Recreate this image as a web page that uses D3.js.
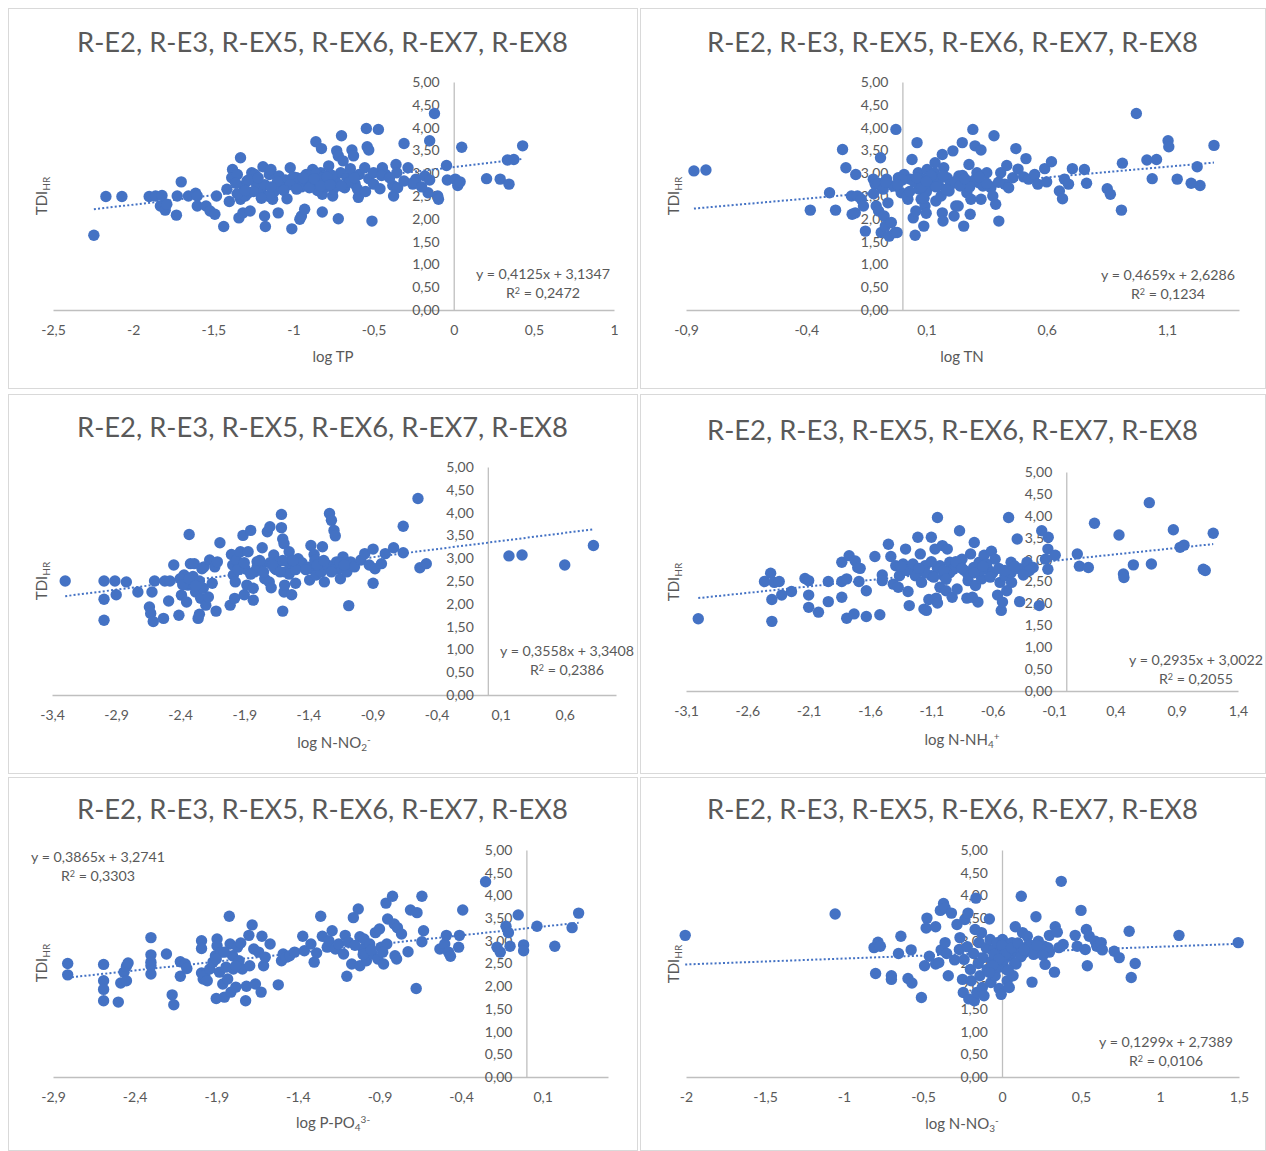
<!DOCTYPE html>
<html><head><meta charset="utf-8">
<script src="https://cdn.jsdelivr.net/npm/d3@7"></script>
<style>
body{margin:0;background:#fff}
text{font-family:Lato,"Open Sans",sans-serif;fill:#595959}
</style>
</head><body>
<svg id="chart" width="1266" height="1151"></svg>
<script>
const chartTitle = "R-E2, R-E3, R-EX5, R-EX6, R-EX7, R-EX8";
const yTicks = [0,0.5,1,1.5,2,2.5,3,3.5,4,4.5,5];
const xTicksTP = [-2.5,-2,-1.5,-1,-0.5,0,0.5,1];
const xTicksTN = [-0.9,-0.4,0.1,0.6,1.1];
const xTicksNO2 = [-3.4,-2.9,-2.4,-1.9,-1.4,-0.9,-0.4,0.1,0.6];
const xTicksNH4 = [-3.1,-2.6,-2.1,-1.6,-1.1,-0.6,-0.1,0.4,0.9,1.4];
const xTicksPO4 = [-2.9,-2.4,-1.9,-1.4,-0.9,-0.4,0.1];
const xTicksNO3 = [-2,-1.5,-1,-0.5,0,0.5,1,1.5];
const slopes = [0.4125,0.4659,0.3558,0.2935,0.3865,0.1299];
const intercepts = [3.1347,2.6286,3.3408,3.0022,3.2741,2.7389];
const rSquared = [0.2472,0.1234,0.2386,0.2055,0.3303,0.0106];

// [log value, TDI_HR]
const logTP = [[-2.245,1.64],[-2.17,2.49],[-2.07,2.49],[-1.9,2.49],[-1.86,2.5],[-1.82,2.51],[-1.83,2.28],[-1.8,2.19],[-1.79,2.32],[-1.73,2.08],[-1.725,2.5],[-1.7,2.81],[-1.655,2.5],[-1.61,2.56],[-1.6,2.5],[-1.6,2.28],[-1.545,2.28],[-1.52,2.17],[-1.49,2.1],[-1.48,2.5],[-1.435,1.83],[-1.415,2.65],[-1.4,2.38],[-1.38,3.08],[-1.385,2.9],[-1.35,2.97],[-1.34,2.02],[-1.33,3.34],[-1.33,2.43],[-1.315,2.13],[-1.31,2.72],[-1.29,2.83],[-1.28,2.57],[-1.27,2.17],[-1.26,3.01],[-1.24,2.97],[-1.23,2.76],[-1.2,2.57],[-1.19,3.14],[-1.18,2.06],[-1.175,1.83],[-1.16,2.5],[-1.15,2.97],[-1.14,3.08],[-1.13,2.43],[-1.11,2.72],[-1.095,2.13],[-1.09,2.94],[-1.06,2.79],[-1.04,2.44],[-1.02,3.12],[-1.01,1.78],[-1.0,2.79],[-0.98,2.9],[-0.96,1.99],[-0.95,2.06],[-0.93,2.21],[-0.93,2.83],[-0.92,2.97],[-0.9,2.76],[-0.88,3.08],[-0.86,3.69],[-0.86,2.87],[-0.845,2.68],[-0.83,3.01],[-0.825,3.54],[-0.82,2.54],[-0.82,2.15],[-0.81,2.94],[-0.79,2.79],[-0.78,3.16],[-0.77,2.97],[-0.755,2.5],[-0.74,2.83],[-0.73,3.49],[-0.72,2.0],[-0.72,3.38],[-0.705,3.01],[-0.7,3.82],[-0.69,3.27],[-0.68,2.68],[-0.665,2.9],[-0.645,3.1],[-0.635,3.51],[-0.625,3.38],[-0.615,2.76],[-0.595,2.47],[-0.59,2.97],[-0.555,3.12],[-0.545,3.98],[-0.54,3.58],[-0.53,3.51],[-0.53,2.88],[-0.51,1.95],[-0.5,2.76],[-0.5,3.01],[-0.47,3.96],[-0.46,2.66],[-0.445,3.12],[-0.425,2.97],[-0.38,2.73],[-0.375,2.5],[-0.36,3.19],[-0.355,3.01],[-0.35,2.68],[-0.31,3.65],[-0.31,2.83],[-0.285,3.12],[-0.255,2.76],[-0.235,2.87],[-0.18,2.94],[-0.16,2.57],[-0.15,3.71],[-0.12,4.31],[-0.1,2.5],[-0.095,2.43],[-0.045,3.17],[-0.04,2.85],[0.01,2.87],[0.025,2.73],[0.04,2.81],[0.05,3.57],[0.205,2.88],[0.29,2.87],[0.345,2.76],[0.335,3.29],[0.375,3.3],[0.43,3.6],[-1.05,2.85],[-1.0,2.92],[-0.97,2.78],[-0.95,2.7],[-0.92,2.85],[-0.9,2.95],[-0.88,2.72],[-0.86,2.98],[-0.84,2.8],[-0.82,2.9],[-0.8,2.7],[-0.78,2.82],[-0.76,2.95],[-0.75,2.65],[-0.85,2.62],[-1.12,2.6],[-1.08,2.7],[-1.18,2.75],[-1.25,2.6],[-1.3,2.5],[-1.28,2.85],[-1.35,2.55],[-1.15,2.5],[-1.2,2.45],[-0.65,2.8],[-0.6,2.65],[-0.55,2.6],[-0.45,2.95],[-0.4,2.9],[-0.25,2.8],[-0.15,2.85],[-0.2,2.7],[-1.02,2.75],[-0.98,2.65],[-0.94,2.9],[-0.9,2.68],[-0.87,2.88],[-0.83,2.72],[-0.79,2.92],[-0.77,2.75],[-1.1,2.82],[-1.14,2.7],[-1.22,2.9],[-1.3,2.62],[-1.36,2.78],[-0.7,2.72],[-0.62,2.9],[-1.06,2.62]];

const logTN = [[-0.867,3.05],[-0.817,3.07],[-0.383,2.19],[-0.303,2.57],[-0.278,2.19],[-0.249,3.52],[-0.235,3.12],[-0.212,2.5],[-0.209,2.1],[-0.196,2.13],[-0.194,2.97],[-0.187,2.5],[-0.171,2.43],[-0.162,2.28],[-0.154,1.73],[-0.121,2.87],[-0.113,2.76],[-0.109,2.28],[-0.099,2.17],[-0.091,3.34],[-0.088,1.7],[-0.083,2.68],[-0.076,2.06],[-0.071,1.84],[-0.066,2.87],[-0.06,2.35],[-0.055,1.62],[-0.046,1.92],[-0.038,2.72],[-0.03,1.7],[-0.027,3.96],[-0.022,1.7],[-0.017,2.9],[-0.005,2.57],[0.007,2.97],[0.023,2.43],[0.033,2.87],[0.04,3.3],[0.045,2.02],[0.053,1.64],[0.056,2.17],[0.061,3.67],[0.066,3.01],[0.07,2.65],[0.078,2.43],[0.086,2.87],[0.089,1.84],[0.094,2.28],[0.099,2.12],[0.103,3.08],[0.111,2.72],[0.119,2.9],[0.133,3.01],[0.136,3.23],[0.139,2.39],[0.149,2.76],[0.161,2.5],[0.166,3.41],[0.166,2.13],[0.169,1.95],[0.172,3.12],[0.186,2.9],[0.194,2.61],[0.21,3.49],[0.215,2.06],[0.222,2.28],[0.232,2.28],[0.235,2.94],[0.249,3.67],[0.255,1.84],[0.26,2.79],[0.268,2.57],[0.277,3.19],[0.282,2.1],[0.285,2.43],[0.293,3.96],[0.302,3.6],[0.31,3.01],[0.318,2.79],[0.327,3.51],[0.327,2.43],[0.335,2.72],[0.351,3.01],[0.368,2.68],[0.376,2.5],[0.381,3.82],[0.388,2.32],[0.401,1.95],[0.409,3.01],[0.426,2.76],[0.434,3.17],[0.442,2.68],[0.459,2.9],[0.472,3.54],[0.481,3.09],[0.504,2.92],[0.514,3.32],[0.525,2.87],[0.55,2.97],[0.563,2.76],[0.592,3.1],[0.6,2.81],[0.62,3.25],[0.653,2.61],[0.666,2.44],[0.674,2.87],[0.691,2.76],[0.707,3.1],[0.757,3.08],[0.766,2.78],[0.852,2.66],[0.865,2.54],[0.911,2.19],[0.915,3.22],[0.973,4.31],[1.017,3.29],[1.039,2.88],[1.057,3.3],[1.105,3.71],[1.108,3.58],[1.143,2.87],[1.201,2.78],[1.226,3.14],[1.238,2.73],[1.296,3.61],[0.05,2.8],[0.1,2.6],[0.15,2.85],[0.2,2.75],[0.25,2.95],[0.3,2.85],[0.35,2.78],[0.12,2.95],[0.08,2.7],[0.18,2.65],[0.22,2.82],[0.28,2.7],[0.4,2.8],[-0.1,2.78],[-0.08,2.65],[-0.12,2.55],[0.0,2.85],[0.02,2.5],[0.06,2.9],[0.1,2.82],[0.14,2.7],[0.17,2.95],[0.24,2.72],[0.26,2.88],[0.32,2.92],[0.03,2.6],[0.09,2.45],[-0.02,2.75],[-0.07,2.8]];

const logNO2 = [[-3.297,2.5],[-2.994,2.5],[-2.994,2.1],[-2.994,1.64],[-2.909,2.5],[-2.899,2.2],[-2.82,2.48],[-2.73,2.26],[-2.64,1.93],[-2.63,1.79],[-2.62,2.26],[-2.61,1.61],[-2.6,2.5],[-2.53,1.68],[-2.52,2.5],[-2.49,2.06],[-2.48,2.5],[-2.45,2.85],[-2.41,1.75],[-2.39,2.19],[-2.37,2.63],[-2.35,2.04],[-2.34,2.41],[-2.33,3.52],[-2.32,2.88],[-2.31,2.48],[-2.29,2.88],[-2.28,2.26],[-2.26,1.68],[-2.25,1.77],[-2.24,2.12],[-2.23,2.77],[-2.22,2.34],[-2.215,2.81],[-2.2,1.97],[-2.18,2.15],[-2.17,2.96],[-2.15,2.45],[-2.13,2.81],[-2.12,1.84],[-2.11,2.92],[-2.09,3.34],[-2.01,1.97],[-2.0,3.08],[-1.99,2.85],[-1.985,2.63],[-1.975,2.12],[-1.97,2.48],[-1.96,2.96],[-1.93,3.14],[-1.91,3.5],[-1.9,2.2],[-1.895,2.77],[-1.88,2.41],[-1.87,3.14],[-1.85,3.61],[-1.83,2.08],[-1.83,2.34],[-1.82,2.7],[-1.8,2.92],[-1.77,2.81],[-1.76,3.23],[-1.74,2.55],[-1.72,3.58],[-1.705,2.48],[-1.7,3.69],[-1.69,2.35],[-1.67,3.07],[-1.66,2.77],[-1.64,2.92],[-1.61,3.96],[-1.61,3.67],[-1.6,3.42],[-1.6,1.84],[-1.59,2.26],[-1.59,3.32],[-1.585,2.41],[-1.58,2.7],[-1.56,2.92],[-1.55,3.14],[-1.53,2.2],[-1.515,2.81],[-1.5,2.45],[-1.48,2.99],[-1.45,2.85],[-1.39,2.52],[-1.38,3.28],[-1.37,2.77],[-1.355,3.08],[-1.34,2.63],[-1.32,2.92],[-1.29,3.25],[-1.275,2.48],[-1.26,2.81],[-1.235,3.98],[-1.22,3.83],[-1.2,3.61],[-1.19,3.49],[-1.18,2.92],[-1.165,2.77],[-1.15,2.55],[-1.13,3.03],[-1.1,2.7],[-1.085,1.96],[-1.07,2.92],[-1.04,2.81],[-0.99,2.96],[-0.96,3.1],[-0.925,2.85],[-0.895,2.45],[-0.895,3.2],[-0.88,2.77],[-0.83,2.88],[-0.8,3.1],[-0.735,3.23],[-0.66,3.12],[-0.66,3.7],[-0.545,4.31],[-0.53,2.79],[-0.48,2.88],[0.165,3.05],[0.267,3.07],[0.6,2.85],[0.824,3.28],[-1.8,2.8],[-1.7,2.9],[-1.65,2.75],[-1.55,2.65],[-1.45,2.9],[-1.4,2.8],[-1.35,2.95],[-1.3,2.7],[-1.25,2.85],[-1.2,2.75],[-1.15,2.9],[-1.5,2.75],[-1.6,2.95],[-1.75,2.7],[-2.4,2.55],[-2.35,2.45],[-2.3,2.6],[-2.25,2.5],[-1.95,2.75],[-1.9,2.9],[-1.85,2.65],[-1.78,2.95],[-1.68,2.85],[-1.62,2.7],[-1.52,2.95],[-1.42,2.75],[-1.33,2.85],[-1.28,2.95],[-1.22,2.7],[-1.12,2.85],[-2.38,2.42],[-2.33,2.55],[-2.28,2.4]];

const logNH4 = [[-3.0,1.65],[-2.46,2.5],[-2.41,2.69],[-2.4,2.09],[-2.4,1.59],[-2.38,2.48],[-2.34,2.5],[-2.32,2.19],[-2.24,2.27],[-2.13,2.57],[-2.1,2.52],[-2.1,2.19],[-2.1,1.91],[-2.02,1.8],[-1.94,2.5],[-1.94,2.04],[-1.83,2.94],[-1.83,2.5],[-1.83,2.14],[-1.79,2.56],[-1.79,1.66],[-1.77,3.09],[-1.73,1.76],[-1.72,2.97],[-1.7,2.82],[-1.69,2.5],[-1.68,2.8],[-1.63,2.29],[-1.63,1.7],[-1.56,3.07],[-1.52,1.74],[-1.5,2.65],[-1.5,2.52],[-1.45,3.35],[-1.43,3.07],[-1.41,2.44],[-1.39,2.86],[-1.37,2.37],[-1.36,2.63],[-1.33,2.9],[-1.31,3.24],[-1.29,2.27],[-1.28,1.95],[-1.26,2.82],[-1.23,2.63],[-1.21,3.51],[-1.19,3.13],[-1.18,2.48],[-1.16,1.87],[-1.15,2.86],[-1.14,1.84],[-1.12,2.09],[-1.1,3.51],[-1.1,2.63],[-1.07,3.24],[-1.06,2.12],[-1.05,3.96],[-1.05,2.01],[-1.03,2.86],[-1.03,2.37],[-1.01,3.32],[-1.0,2.63],[-0.98,2.29],[-0.97,3.24],[-0.95,2.94],[-0.93,2.14],[-0.92,2.78],[-0.89,2.33],[-0.87,3.66],[-0.85,3.01],[-0.83,2.75],[-0.81,2.12],[-0.8,2.52],[-0.78,3.13],[-0.765,2.14],[-0.755,2.82],[-0.75,3.39],[-0.74,2.41],[-0.72,2.03],[-0.71,2.94],[-0.69,2.56],[-0.67,3.1],[-0.64,2.78],[-0.61,3.19],[-0.58,3.01],[-0.56,2.19],[-0.54,2.48],[-0.53,1.84],[-0.52,2.03],[-0.5,2.63],[-0.485,2.29],[-0.47,3.96],[-0.45,2.94],[-0.446,2.48],[-0.4,3.47],[-0.38,2.04],[-0.365,2.78],[-0.32,2.94],[-0.27,2.82],[-0.22,1.95],[-0.2,3.66],[-0.17,3.01],[-0.15,3.24],[-0.15,2.78],[-0.147,3.51],[-0.09,3.1],[0.09,3.13],[0.107,2.85],[0.18,2.82],[0.23,3.83],[0.43,3.56],[0.466,2.67],[0.47,2.59],[0.547,2.88],[0.677,4.3],[0.694,2.9],[0.873,3.68],[0.928,3.28],[0.96,3.33],[1.117,2.78],[1.133,2.75],[1.198,3.6],[-1.3,2.75],[-1.25,2.9],[-1.15,2.7],[-1.05,2.8],[-0.95,2.7],[-0.9,2.85],[-0.8,2.65],[-0.7,2.75],[-0.65,2.9],[-0.6,2.7],[-0.55,2.8],[-0.45,2.7],[-0.4,2.8],[-0.3,2.75],[-1.35,2.85],[-1.2,2.8],[-1.1,2.95],[-1.0,2.75],[-0.9,2.95],[-0.85,2.8],[-0.75,2.7],[-0.68,2.85],[-0.62,2.6],[-0.5,2.75],[-0.42,2.85],[-0.35,2.65],[-0.98,2.55],[-1.08,2.6]];

const logPO4 = [[-2.81,2.5],[-2.81,2.25],[-2.59,2.48],[-2.59,2.12],[-2.59,1.93],[-2.59,1.68],[-2.5,1.65],[-2.485,2.07],[-2.465,2.31],[-2.45,2.12],[-2.45,2.44],[-2.44,2.51],[-2.3,3.07],[-2.3,2.69],[-2.3,2.53],[-2.3,2.27],[-2.3,2.45],[-2.205,2.71],[-2.17,1.81],[-2.16,1.59],[-2.12,2.22],[-2.12,2.54],[-2.09,2.49],[-2.08,2.39],[-1.99,3.0],[-1.99,2.83],[-1.99,2.29],[-1.98,2.16],[-1.97,2.23],[-1.955,2.12],[-1.94,2.38],[-1.92,2.53],[-1.905,2.67],[-1.9,1.73],[-1.895,3.04],[-1.895,2.89],[-1.88,2.31],[-1.87,2.75],[-1.86,2.05],[-1.85,1.76],[-1.84,2.42],[-1.83,2.16],[-1.82,3.54],[-1.815,2.93],[-1.81,1.87],[-1.8,2.67],[-1.795,2.38],[-1.78,1.98],[-1.77,2.86],[-1.76,2.56],[-1.75,2.95],[-1.74,2.38],[-1.72,1.68],[-1.715,2.0],[-1.7,3.12],[-1.695,2.45],[-1.68,3.35],[-1.67,2.82],[-1.66,2.05],[-1.64,2.75],[-1.625,1.87],[-1.62,3.1],[-1.61,2.45],[-1.6,2.64],[-1.57,2.93],[-1.52,2.03],[-1.5,2.56],[-1.49,2.71],[-1.47,2.64],[-1.45,2.67],[-1.42,2.75],[-1.37,3.1],[-1.36,2.78],[-1.32,2.93],[-1.3,2.53],[-1.285,2.73],[-1.26,3.54],[-1.25,3.1],[-1.22,2.86],[-1.21,3.0],[-1.19,3.22],[-1.17,2.82],[-1.15,2.93],[-1.12,2.71],[-1.11,3.12],[-1.1,2.22],[-1.09,2.97],[-1.07,2.49],[-1.06,3.51],[-1.03,3.7],[-1.02,2.45],[-1.02,3.09],[-1.0,2.82],[-0.995,3.04],[-0.98,2.56],[-0.96,2.93],[-0.945,2.71],[-0.925,3.18],[-0.91,2.6],[-0.9,3.26],[-0.89,2.86],[-0.875,2.49],[-0.86,3.83],[-0.855,2.93],[-0.85,3.48],[-0.82,3.98],[-0.81,3.37],[-0.805,2.67],[-0.795,2.6],[-0.79,3.29],[-0.765,3.15],[-0.725,2.76],[-0.71,3.68],[-0.675,1.95],[-0.67,3.62],[-0.64,3.98],[-0.64,2.98],[-0.63,3.22],[-0.53,2.82],[-0.5,2.93],[-0.49,3.12],[-0.477,2.75],[-0.465,2.66],[-0.415,2.86],[-0.41,3.12],[-0.39,3.68],[-0.25,4.3],[-0.18,2.86],[-0.16,2.75],[-0.125,3.32],[-0.11,3.18],[-0.1,2.88],[-0.05,3.57],[-0.017,2.91],[-0.017,2.78],[0.065,3.32],[0.174,2.88],[0.28,3.29],[0.32,3.61],[-1.9,2.6],[-1.85,2.75],[-1.78,2.45],[-1.0,2.7],[-0.95,2.8],[-0.88,2.75],[-1.05,2.9]];

const logNO3 = [[-2.005,3.12],[-1.056,3.59],[-0.81,2.85],[-0.8,2.28],[-0.785,2.97],[-0.77,2.88],[-0.7,2.15],[-0.7,2.23],[-0.655,2.72],[-0.64,3.1],[-0.595,2.17],[-0.575,2.8],[-0.57,2.07],[-0.51,1.75],[-0.49,2.45],[-0.48,3.28],[-0.475,3.5],[-0.46,2.66],[-0.42,3.31],[-0.42,2.49],[-0.4,2.52],[-0.39,3.67],[-0.385,2.8],[-0.37,3.82],[-0.36,2.96],[-0.36,3.72],[-0.35,2.72],[-0.34,2.23],[-0.32,3.61],[-0.3,2.58],[-0.285,3.36],[-0.27,2.81],[-0.266,3.07],[-0.25,2.15],[-0.245,1.86],[-0.24,2.59],[-0.235,3.47],[-0.22,2.87],[-0.215,3.61],[-0.21,1.72],[-0.2,2.37],[-0.195,2.12],[-0.18,2.72],[-0.175,1.68],[-0.17,3.25],[-0.165,3.94],[-0.16,1.86],[-0.15,2.5],[-0.145,2.96],[-0.14,2.23],[-0.13,3.18],[-0.125,1.97],[-0.12,2.63],[-0.114,1.79],[-0.1,2.85],[-0.094,2.37],[-0.08,3.48],[-0.075,3.03],[-0.07,2.08],[-0.063,2.55],[-0.05,2.81],[-0.043,2.23],[-0.03,2.96],[-0.023,2.41],[-0.018,1.95],[-0.013,2.74],[-0.005,1.82],[0.003,3.03],[0.008,2.55],[0.02,2.85],[0.028,2.37],[0.033,2.12],[0.046,1.97],[0.053,2.66],[0.063,2.96],[0.07,2.23],[0.084,3.31],[0.089,2.49],[0.104,2.88],[0.122,3.98],[0.13,3.18],[0.14,2.74],[0.16,3.1],[0.17,2.92],[0.19,2.09],[0.197,2.81],[0.215,3.53],[0.23,2.99],[0.248,2.74],[0.266,2.88],[0.273,2.48],[0.29,2.85],[0.3,3.12],[0.332,2.31],[0.337,3.31],[0.35,3.19],[0.36,2.85],[0.375,4.31],[0.387,2.92],[0.463,3.12],[0.476,2.88],[0.5,3.67],[0.527,2.81],[0.534,3.25],[0.54,2.45],[0.552,3.1],[0.59,2.99],[0.6,2.88],[0.628,2.96],[0.635,2.8],[0.71,2.77],[0.742,2.63],[0.805,3.21],[0.818,2.19],[0.843,2.5],[1.12,3.12],[1.495,2.96],[0.05,2.8],[0.1,2.75],[0.15,2.85],[0.2,2.7],[0.25,2.8],[-0.05,2.7],[0.0,2.9],[0.12,2.65],[0.18,2.9],[0.3,2.75],[0.02,2.7],[0.06,2.85],[0.1,2.95],[0.14,2.8],[0.22,2.9],[0.26,2.68],[-0.02,2.6],[-0.06,2.45],[0.08,2.5],[0.04,2.35],[-0.08,2.3]];

const panels = [
  {data:logTP, ticks:xTicksTP, box:[8,8,629,380], xDom:[-2.5,1], xPx:[53,614], yPx:[310,82], titleY:43, eq:[543,274], xl:[333,357], yl:[42,196], label:[["log TP",""]]},
  {data:logTN, ticks:xTicksTN, box:[640,8,625,380], xDom:[-0.9,1.4], xPx:[686,1239], yPx:[310,82], titleY:43, eq:[1168,275], xl:[962,357], yl:[674,196], label:[["log TN",""]]},
  {data:logNO2, ticks:xTicksNO2, box:[8,394,629,379], xDom:[-3.4,1.0], xPx:[52,616], yPx:[695,467], titleY:428, eq:[567,651], xl:[334,743], yl:[42,581], label:[["log N-NO",""],["2","sub"],["-","sup"]]},
  {data:logNH4, ticks:xTicksNH4, box:[640,394,625,379], xDom:[-3.1,1.4], xPx:[686,1238], yPx:[691,472], titleY:431, eq:[1196,660], xl:[962,740], yl:[674,582], label:[["log N-NH",""],["4","sub"],["+","sup"]]},
  {data:logPO4, ticks:xTicksPO4, box:[8,777,629,373], xDom:[-2.9,0.5], xPx:[53,608], yPx:[1077,850], titleY:810, eq:[98,857], xl:[333,1123], yl:[42,963], label:[["log P-PO",""],["4","sub"],["3-","sup"]]},
  {data:logNO3, ticks:xTicksNO3, box:[640,777,625,373], xDom:[-2,1.5], xPx:[686,1239], yPx:[1077,850], titleY:810, eq:[1166,1042], xl:[962,1124], yl:[674,964], label:[["log N-NO",""],["3","sub"],["-","sup"]]}
];

const svg = d3.select("#chart");
const blue = "#4472C4";
const comma = v => String(v).replace(".", ",");

function fitText(sel, width){
  const w = sel.node().getComputedTextLength();
  const fs = parseFloat(sel.attr("font-size"));
  sel.attr("font-size", (fs*width/w).toFixed(2));
}

panels.forEach((p, i) => {
  const g = svg.append("g");
  g.append("rect").attr("x",p.box[0]+0.5).attr("y",p.box[1]+0.5).attr("width",p.box[2]).attr("height",p.box[3])
    .attr("fill","#fff").attr("stroke","#d9d9d9").attr("stroke-width",1);
  const x = d3.scaleLinear().domain(p.xDom).range(p.xPx);
  const y = d3.scaleLinear().domain([0,5]).range(p.yPx);

  const t = g.append("text").attr("x", p.box[0]+p.box[2]/2).attr("y", p.titleY+9)
    .attr("text-anchor","middle").attr("font-size",26).text(chartTitle);
  fitText(t, 491);

  const xa = g.append("g").attr("transform",`translate(0,${y(0)})`)
    .call(d3.axisBottom(x).tickValues(p.ticks).tickFormat(comma).tickSize(0).tickSizeOuter(0).tickPadding(15));
  xa.select(".domain").attr("stroke","#bfbfbf").attr("stroke-width",1.3);
  xa.selectAll("text").attr("font-size",14).attr("fill","#595959").style("font-family","Lato, 'Open Sans', sans-serif");

  const ya = g.append("g").attr("transform",`translate(${x(0)},0)`)
    .call(d3.axisLeft(y).tickValues(yTicks).tickFormat(d=>d.toFixed(2).replace(".",",")).tickSize(0).tickSizeOuter(0).tickPadding(14));
  ya.select(".domain").attr("stroke","#bfbfbf").attr("stroke-width",1.3);
  ya.selectAll("text").attr("font-size",14).attr("fill","#595959").style("font-family","Lato, 'Open Sans', sans-serif");

  const xt = g.append("text").attr("x",p.xl[0]).attr("y",p.xl[1]+5).attr("text-anchor","middle").attr("font-size",15);
  p.label.forEach(([s,k]) => {
    const ts = xt.append("tspan").text(s);
    if (k==="sub") ts.attr("font-size",10).attr("baseline-shift","-25%");
    if (k==="sup") ts.attr("font-size",10).attr("baseline-shift","55%");
  });
  const yt = g.append("text").attr("transform",`translate(${p.yl[0]+5},${p.yl[1]}) rotate(-90)`)
    .attr("text-anchor","middle").attr("font-size",15);
  yt.append("tspan").text("TDI");
  yt.append("tspan").text("HR").attr("font-size",10).attr("baseline-shift","-25%");

  const ext = d3.extent(p.data, d=>d[0]);
  g.append("line").attr("x1",x(ext[0])).attr("y1",y(slopes[i]*ext[0]+intercepts[i]))
    .attr("x2",x(ext[1])).attr("y2",y(slopes[i]*ext[1]+intercepts[i]))
    .attr("stroke",blue).attr("stroke-width",2).attr("stroke-dasharray","2 2.2");

  g.selectAll("circle").data(p.data).enter().append("circle")
    .attr("cx",d=>x(d[0])).attr("cy",d=>y(d[1])).attr("r",5.7).attr("fill",blue);

  const e1 = g.append("text").attr("x",p.eq[0]).attr("y",p.eq[1]+5).attr("text-anchor","middle").attr("font-size",13.5)
    .text(`y = ${slopes[i].toFixed(4).replace(".",",")}x + ${intercepts[i].toFixed(4).replace(".",",")}`);
  fitText(e1, 134);
  const e2 = g.append("text").attr("x",p.eq[0]).attr("y",p.eq[1]+24).attr("text-anchor","middle").attr("font-size",e1.attr("font-size"));
  e2.append("tspan").text("R");
  e2.append("tspan").text("2").attr("font-size",9).attr("baseline-shift","45%");
  e2.append("tspan").text(" = " + rSquared[i].toFixed(4).replace(".",","));
});
</script>
</body></html>
